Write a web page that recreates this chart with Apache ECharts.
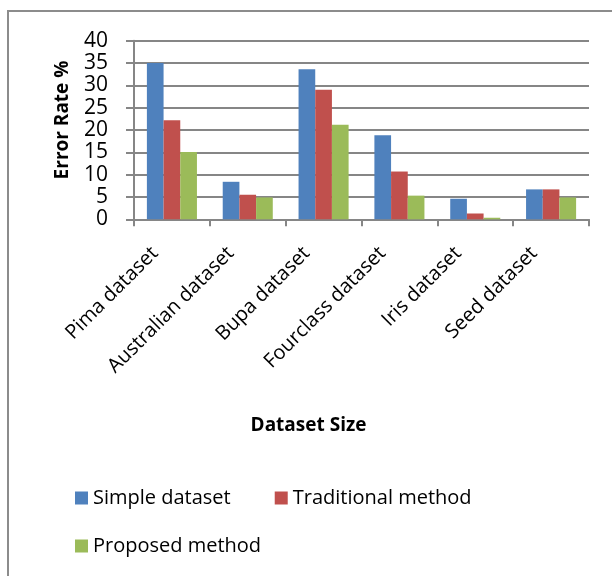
<!DOCTYPE html>
<html>
<head>
<meta charset="utf-8">
<script src="https://cdn.jsdelivr.net/npm/echarts@6/dist/echarts.min.js"></script>
<style>
html,body{margin:0;padding:0;background:#fff;}
#main{width:612px;height:576px;}
</style>
</head>
<body>
<div id="main"></div>
<script>
const categories = ['Pima dataset','Australian dataset','Bupa dataset','Fourclass dataset','Iris dataset','Seed dataset'];
const seriesNames = ['Simple dataset','Traditional method','Proposed method'];
const simpleData = [35.0, 8.4, 33.6, 18.8, 4.6, 6.7];
const traditionalData = [22.2, 5.5, 29.0, 10.7, 1.3, 6.7];
const proposedData = [15.1, 4.9, 21.2, 5.3, 0.35, 4.9];
const yTicks = [0,5,10,15,20,25,30,35,40];

const colors = ['#4F81BD','#C0504D','#9BBB59'];
const FONT = 'Open Sans';
const chart = echarts.init(document.getElementById('main'));
const seriesData = [simpleData, traditionalData, proposedData];
chart.setOption({
  animation:false,
  color: colors,
  textStyle:{fontFamily:FONT},
  graphic:[{type:'rect',shape:{x:8,y:11,width:620,height:580},style:{fill:'none',stroke:'#8c8c8c',lineWidth:2},z:-1}],
  legend:[
    {data:[seriesNames[0],seriesNames[1]],left:70,top:483,icon:'rect',itemWidth:13,itemHeight:13,itemGap:44,
     textStyle:{fontFamily:FONT,fontSize:20,color:'#000'}},
    {data:[seriesNames[2]],left:70,top:531,icon:'rect',itemWidth:13,itemHeight:13,
     textStyle:{fontFamily:FONT,fontSize:20,color:'#000'}}
  ],
  grid:{left:134,right:23,top:40.7,bottom:356.7,containLabel:false},
  xAxis:{type:'category',data:categories,
    name:'Dataset Size',nameLocation:'middle',nameGap:197,
    nameTextStyle:{fontFamily:FONT,fontSize:19,fontWeight:'bold',color:'#000',padding:[0,106,0,0]},
    axisLine:{lineStyle:{color:'#868686',width:2}},
    axisTick:{show:true,length:7,lineStyle:{color:'#868686',width:2}},
    axisLabel:{rotate:45,fontSize:20,color:'#000',fontFamily:FONT,margin:14,padding:[0,24,0,0]}
  },
  yAxis:{type:'value',min:0,max:40,interval:5,
    name:'Error Rate %',nameLocation:'middle',nameGap:62,
    nameTextStyle:{fontFamily:FONT,fontSize:19,fontWeight:'bold',color:'#000',padding:[0,0,0,20]},
    axisLine:{show:true,lineStyle:{color:'#868686',width:2}},
    axisTick:{show:true,length:8,lineStyle:{color:'#868686',width:2}},
    splitLine:{lineStyle:{color:'#868686',width:2}},
    axisLabel:{fontSize:21,color:'#000',fontFamily:FONT,margin:26,
      formatter:function(v){return yTicks.indexOf(v)>=0?String(v):'';}}
  },
  series: seriesNames.map((n,i)=>({name:n,type:'bar',data:seriesData[i],barGap:'0%',barCategoryGap:'34%',
    itemStyle:{color:colors[i]}}))
});
</script>
</body>
</html>
